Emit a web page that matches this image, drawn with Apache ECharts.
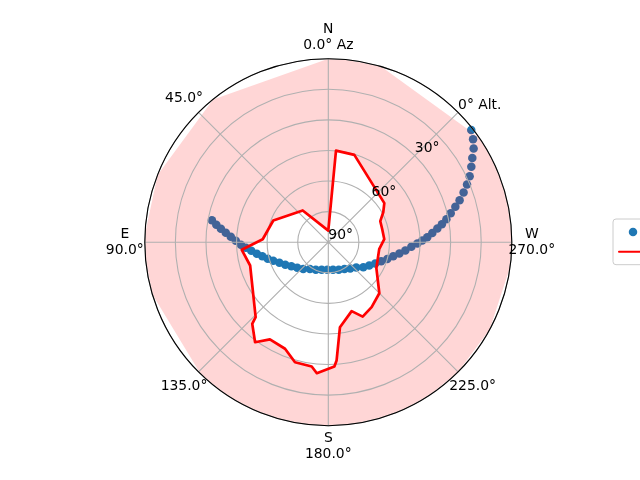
<!DOCTYPE html>
<html>
<head>
<meta charset="utf-8">
<script src="https://cdn.jsdelivr.net/npm/echarts@6.0.0/dist/echarts.min.js"></script>
<style>
  html, body { margin: 0; padding: 0; background: #ffffff; }
  #chart { width: 640px; height: 480px; }
</style>
</head>
<body>
<div id="chart"></div>
<script>
// ---- data ----
const seriesNames = ['Sun path', 'Horizon'];

// Sun positions: azimuth (deg) and altitude (deg)
const sunAz = [79.3, 81.1, 82.8, 84.7, 86.8, 89.1, 91.6, 93.8, 96.3, 99.1,
  102.0, 105.3, 108.6, 112.7, 117.6, 123.0, 129.4, 137.0, 145.6, 155.5,
  166.4, 178.0, 189.7, 200.8, 211.0, 219.9, 227.8, 234.5, 240.4, 245.6,
  250.1, 254.1, 257.7, 261.0, 263.9, 266.8, 269.2, 271.0, 272.9, 275.0,
  277.1, 279.0, 281.0, 283.3, 285.6, 287.7, 290.2, 292.6, 295.0, 297.8,
  300.3, 302.8, 305.4, 308.1];
const sunAlt = [31.9, 34.4, 36.9, 39.5, 42.1, 44.6, 47.1, 49.5, 52.0, 54.5,
  56.9, 59.2, 61.5, 64.0, 66.2, 68.4, 70.3, 72.0, 74.0, 75.2,
  76.1, 76.5, 76.3, 75.6, 74.6, 73.2, 71.5, 68.9, 66.9, 64.7,
  62.4, 59.9, 57.4, 54.7, 52.0, 49.2, 46.3, 43.9, 41.4, 38.8,
  36.1, 33.6, 31.0, 28.3, 25.3, 22.4, 19.3, 16.3, 13.5, 10.7,
  8.2, 5.2, 2.9, 0.9];

// Horizon profile: azimuth (deg) and altitude (deg)
const horizonAz = [0, 38.9, 68.5, 87.4, 95, 106.6, 135.9, 137, 143.8, 149,
  157.9, 164.5, 172.4, 175, 182.8, 184, 187.8, 198.7, 204.8, 213.7,
  225, 241.6, 262.2, 273.1, 283.5, 292, 298.6, 304.9, 343.4, 355.2, 360];
const horizonAlt = [84.3, 70, 61, 57.8, 47.4, 50, 38.8, 35.3, 29.2, 34.4,
  33.6, 28.9, 28.5, 25.5, 29, 31.8, 47.9, 54.3, 49.8, 51.7,
  54.6, 63.2, 64.8, 62.5, 62.8, 62.5, 59.3, 56.5, 45.3, 44.9, 84.3];

// Tick labels
const azTicks = [0, 45, 90, 135, 180, 225, 270];
const azTickLabels = ['N\n0.0° Az', '45.0°', 'E\n90.0°', '135.0°', 'S\n180.0°', '225.0°', 'W\n270.0°'];
const altTicks = [0, 30, 60, 90];
const altTickLabels = ['0° Alt.', '30°', '60°', '90°'];

// ---- build chart ----
const FONT = 'DejaVu Sans';
const FS = 13.9;
const sunData = sunAz.map((a, i) => [sunAlt[i], a]);
const horizonData = horizonAz.map((a, i) => [horizonAlt[i], a]);

const baseText = { fontFamily: FONT, fontSize: FS, color: '#000000' };
const azRich = {
  v: Object.assign({ width: 60, align: 'center', lineHeight: 16 }, baseText),
  h: Object.assign({ width: 30, align: 'center', lineHeight: 16 }, baseText),
  d: Object.assign({ width: 22, align: 'center', lineHeight: 22 }, baseText)
};
const azStyleKey = { 0: 'v', 180: 'v', 90: 'h', 270: 'h', 45: 'd', 135: 'd', 225: 'd' };

function fmtAz(value) {
  const idx = azTicks.indexOf(Math.round(value));
  if (idx < 0) return '';
  const key = azStyleKey[azTicks[idx]];
  return azTickLabels[idx].split('\n').map(l => '{' + key + '|' + l + '}').join('\n');
}
function fmtAlt(value) {
  const idx = altTicks.indexOf(Math.round(value));
  return idx < 0 ? '' : altTickLabels[idx];
}

const chart = echarts.init(document.getElementById('chart'), null, { renderer: 'canvas' });
const polarCenter = [328.3, 242.2];
const polarRadius = 183.5;

chart.setOption({
  animation: false,
  backgroundColor: '#ffffff',
  polar: [
    { center: polarCenter, radius: polarRadius },
    { center: polarCenter, radius: polarRadius }
  ],
  angleAxis: [
    {
      polarIndex: 0, type: 'value', min: -45, max: 315, interval: 45,
      startAngle: 45, clockwise: false, z: 3,
      axisLine: { show: true, lineStyle: { color: '#000000', width: 1.1 } },
      axisTick: { show: false },
      splitLine: { show: true, lineStyle: { color: '#b0b0b0', width: 1.1 } },
      axisLabel: Object.assign({ margin: 5, formatter: fmtAz, rich: azRich }, baseText)
    },
    {
      polarIndex: 1, type: 'value', min: -45, max: 315, interval: 45,
      startAngle: 45, clockwise: false, z: 6,
      axisLine: { show: false }, axisTick: { show: false },
      splitLine: { show: false }, axisLabel: { show: false }
    }
  ],
  radiusAxis: [
    {
      polarIndex: 0, type: 'value', min: 0, max: 90, interval: 15, inverse: true, z: 2.5,
      axisLine: { show: false }, axisTick: { show: false },
      splitLine: { show: true, lineStyle: { color: '#b0b0b0', width: 1.1 } },
      axisLabel: { show: false }
    },
    {
      polarIndex: 1, type: 'value', min: 0, max: 90, interval: 15, inverse: true, z: 6,
      axisLine: { show: false }, axisTick: { show: false },
      splitLine: { show: false },
      axisLabel: Object.assign({
        margin: 0, align: 'left', verticalAlign: 'bottom',
        showMinLabel: true, showMaxLabel: true, formatter: fmtAlt
      }, baseText)
    }
  ],
  legend: {
    orient: 'vertical', left: 613, top: 219, padding: [6, 5],
    itemGap: 5.7, itemWidth: 28, itemHeight: 8.5,
    backgroundColor: 'rgba(255,255,255,0.8)', borderColor: '#cccccc',
    borderWidth: 1, borderRadius: 3,
    textStyle: baseText,
    data: [
      { name: seriesNames[0], icon: 'circle', itemStyle: { opacity: 1 } },
      { name: seriesNames[1], itemStyle: { opacity: 0 } }
    ]
  },
  series: [
    {
      name: seriesNames[0], type: 'scatter', coordinateSystem: 'polar', polarIndex: 0,
      data: sunData, symbol: 'circle', symbolSize: 8.5, z: 1,
      itemStyle: { color: '#1f77b4', opacity: 1 }, silent: true
    },
    {
      name: 'horizon-fill', type: 'line', coordinateSystem: 'polar', polarIndex: 0,
      data: horizonData, symbol: 'none', showSymbol: false, z: 2,
      lineStyle: { width: 0, opacity: 0 },
      areaStyle: { color: '#ff0000', opacity: 0.16, origin: 'start' }, silent: true
    },
    {
      name: seriesNames[1], type: 'line', coordinateSystem: 'polar', polarIndex: 0,
      data: horizonData, symbol: 'none', showSymbol: false, z: 5,
      lineStyle: { color: '#ff0000', width: 2.7, join: 'round', cap: 'round' },
      itemStyle: { color: '#ff0000' }, silent: true
    }
  ]
});
</script>
</body>
</html>
